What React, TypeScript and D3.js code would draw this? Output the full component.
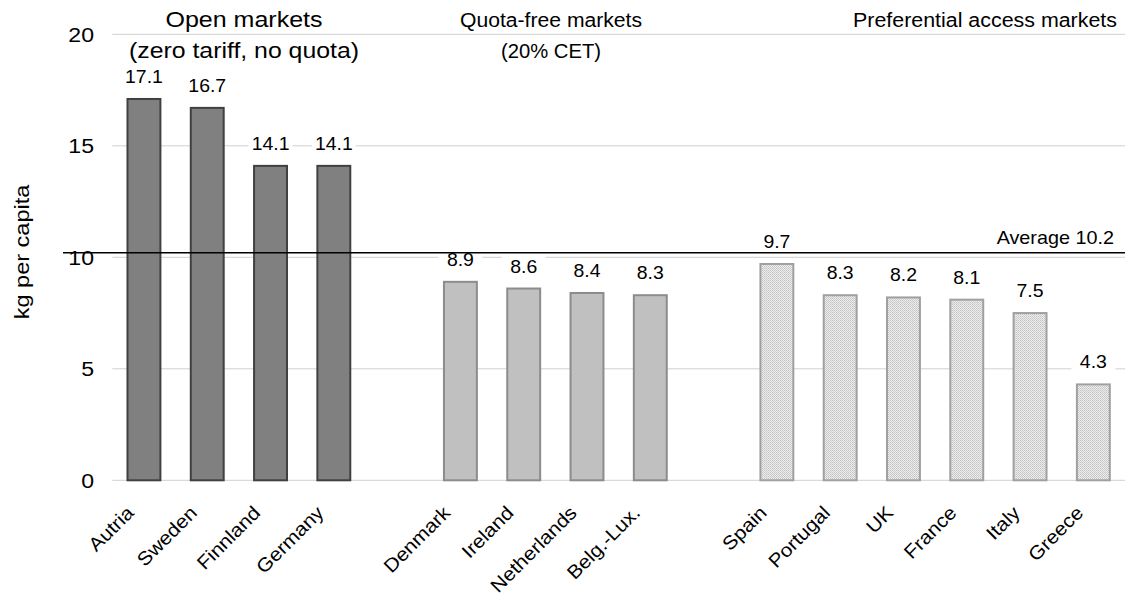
import React from "react";
import * as d3 from "d3";

const countries = [
  "Autria", "Sweden", "Finnland", "Germany", "",
  "Denmark", "Ireland", "Netherlands", "Belg.-Lux.", " ",
  "Spain", "Portugal", "UK", "France", "Italy", "Greece",
];
const values = [17.1, 16.7, 14.1, 14.1, null, 8.9, 8.6, 8.4, 8.3, null, 9.7, 8.3, 8.2, 8.1, 7.5, 4.3];
const groups = [0, 0, 0, 0, -1, 1, 1, 1, 1, -1, 2, 2, 2, 2, 2, 2];
const groupTitles = [
  ["Open markets", "(zero tariff, no quota)"],
  ["Quota-free markets", "(20% CET)"],
  ["Preferential access markets"],
];
const yTicks = [0, 5, 10, 15, 20];
const average = 10.2;

const W = 1125;
const H = 600;
const FONT = "'Liberation Sans', Arial, sans-serif";

// Text drawn with a slight stretch along its own direction.
function SText(props: {
  x: number; y: number; size: number; sx?: number; anchor?: string; rotate?: number; len?: number; children: React.ReactNode;
}) {
  const { x, y, size, sx = 1.1, anchor = "start", rotate = 0, len, children } = props;
  return (
    <g transform={`translate(${x},${y}) rotate(${rotate}) scale(${len ? 1 : sx},1)`}>
      <text
        x={0}
        y={0}
        textAnchor={anchor}
        fontSize={size}
        fill="#000"
        textLength={len}
        lengthAdjust={len ? "spacingAndGlyphs" : undefined}
      >
        {children}
      </text>
    </g>
  );
}

// title block layout: centre x, font size and rendered line lengths
const titleCentres = [244, 551, 985];
const titleSizes = [22, 20, 20];
const titleLengths = [[157, 230], [182, 100], [264]];

export default function App() {
  const x = d3.scaleBand<number>()
    .domain(d3.range(countries.length))
    .range([112.3, 1125])
    .paddingInner(0.48)
    .paddingOuter(0.24);
  const y = d3.scaleLinear().domain([0, 20]).range([480.3, 34.3]);
  const bw = x.bandwidth();
  const cx = (i: number) => x(i)! + bw / 2;

  const fills = ["#808080", "#c0c0c0", "url(#dots)"];
  const strokes = ["#404040", "#8c8c8c", "#a0a0a0"];

  return (
    <svg width={W} height={H} style={{ position: "absolute", left: 0, top: 0, background: "#fff" }} fontFamily={FONT}>
      <defs>
        <pattern id="dots" width="2" height="2" patternUnits="userSpaceOnUse">
          <rect width="2" height="2" fill="#ececec" />
          <rect width="1" height="1" fill="#c4c4c4" />
          <rect x="1" y="1" width="1" height="1" fill="#cfcfcf" />
        </pattern>
      </defs>
      <rect width={W} height={H} fill="#fff" />

      {/* gridlines and y tick labels */}
      {yTicks.map((t) => (
        <g key={t}>
          <line x1={112.3} x2={W} y1={y(t)} y2={y(t)} stroke="#d0d0d0" strokeWidth={1} />
          <SText x={94} y={y(t) + 7.5} size={21} sx={1.1} anchor="end">{t}</SText>
        </g>
      ))}

      <SText x={29} y={252} size={21} sx={1.12} anchor="middle" rotate={-90}>
        kg per capita
      </SText>

      {/* group titles */}
      {groupTitles.map((lines, g) =>
        lines.map((l, i) => (
          <SText
            key={`${g}-${i}`}
            x={titleCentres[g]}
            y={27 + i * 31}
            size={titleSizes[g]}
            anchor="middle"
            len={titleLengths[g][i]}
          >
            {l}
          </SText>
        ))
      )}

      {/* bars */}
      {values.map((v, i) =>
        v === null ? null : (
          <rect
            key={i}
            x={x(i)!}
            y={y(v)}
            width={bw}
            height={y(0) - y(v)}
            fill={fills[groups[i]]}
            stroke={strokes[groups[i]]}
            strokeWidth={2}
          />
        )
      )}

      {/* value labels with white backing */}
      {values.map((v, i) =>
        v === null ? null : (
          <g key={i}>
            <rect x={cx(i) - 22} y={y(v) - 35} width={44} height={23} fill="#fff" />
            <SText x={cx(i)} y={y(v) - 16} size={18} sx={1.08} anchor="middle">{v.toFixed(1)}</SText>
          </g>
        )
      )}

      {/* average line */}
      <line x1={63} x2={W} y1={y(average)} y2={y(average)} stroke="#000" strokeWidth={1.5} />
      <SText x={1114} y={y(average) - 9} size={18} sx={1.1} anchor="end">Average {average}</SText>

      {/* category labels */}
      {countries.map((c, i) =>
        c.trim() === "" ? null : (
          <SText key={i} x={cx(i) - 9} y={514} size={19} sx={1.1} anchor="end" rotate={-45}>{c}</SText>
        )
      )}
    </svg>
  );
}
